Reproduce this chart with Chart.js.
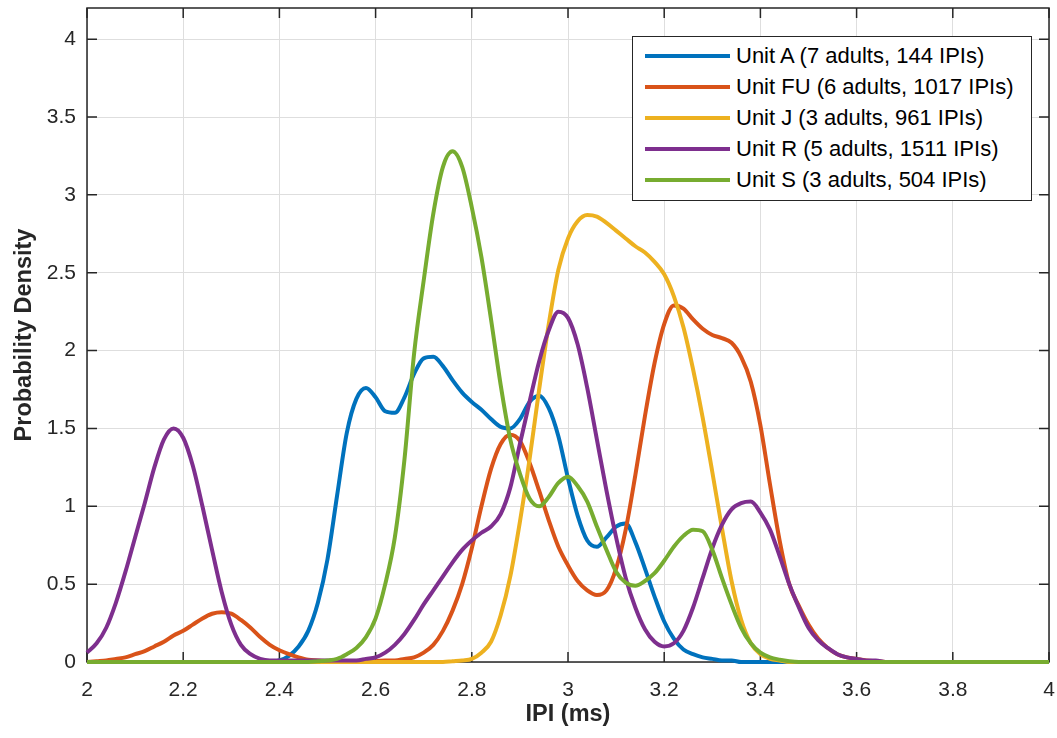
<!DOCTYPE html>
<html>
<head>
<meta charset="utf-8">
<script src="https://cdn.jsdelivr.net/npm/chart.js@4.4.0/dist/chart.umd.min.js"></script>
<style>
    body { margin: 0; background: #fff; }
    .wrap { position: relative; width: 1057px; height: 738px; }
    .legend {
        position: absolute; left: 632px; top: 36px; width: 400px; height: 165px;
        box-sizing: border-box; border: 1.5px solid #262626; background: #fff;
        padding-top: 3px;
        font-family: 'Liberation Sans', Arial, Helvetica, sans-serif; font-size: 22px; color: #000;
    }
    .legend .row { display: flex; align-items: center; height: 31px; }
    .legend .swatch { width: 85px; height: 4px; margin-left: 12px; margin-right: 6px; }
</style>
</head>
<body>
<div class="wrap">
    <canvas id="kdeChart" width="1057" height="738"></canvas>
    <div class="legend" id="legend"></div>
</div>
<script>
// IPI grid (ms), 0.02 steps
const ipi = [
    2.00, 2.02, 2.04, 2.06, 2.08, 2.10, 2.12, 2.14, 2.16, 2.18,
    2.20, 2.22, 2.24, 2.26, 2.28, 2.30, 2.32, 2.34, 2.36, 2.38,
    2.40, 2.42, 2.44, 2.46, 2.48, 2.50, 2.52, 2.54, 2.56, 2.58,
    2.60, 2.62, 2.64, 2.66, 2.68, 2.70, 2.72, 2.74, 2.76, 2.78,
    2.80, 2.82, 2.84, 2.86, 2.88, 2.90, 2.92, 2.94, 2.96, 2.98,
    3.00, 3.02, 3.04, 3.06, 3.08, 3.10, 3.12, 3.14, 3.16, 3.18,
    3.20, 3.22, 3.24, 3.26, 3.28, 3.30, 3.32, 3.34, 3.36, 3.38,
    3.40, 3.42, 3.44, 3.46, 3.48, 3.50, 3.52, 3.54, 3.56, 3.58,
    3.60, 3.62, 3.64, 3.66, 3.68, 3.70, 3.72, 3.74, 3.76, 3.78,
    3.80, 3.82, 3.84, 3.86, 3.88, 3.90, 3.92, 3.94, 3.96, 3.98,
    4.00
];

const unitA = [
    0, 0, 0, 0, 0, 0, 0, 0, 0, 0,
    0, 0, 0, 0, 0, 0, 0, 0, 0, 0,
    0.01, 0.04, 0.10, 0.20, 0.38, 0.66, 1.07, 1.47, 1.69, 1.76,
    1.70, 1.61, 1.60, 1.70, 1.85, 1.95, 1.96, 1.90, 1.81, 1.73,
    1.67, 1.62, 1.56, 1.51, 1.50, 1.56, 1.67, 1.71, 1.63, 1.45,
    1.18, 0.94, 0.78, 0.74, 0.80, 0.87, 0.89, 0.77, 0.60, 0.42,
    0.26, 0.15, 0.08, 0.05, 0.03, 0.02, 0.01, 0.01, 0, 0,
    0, 0, 0, 0, 0, 0, 0, 0, 0, 0,
    0, 0, 0, 0, 0, 0, 0, 0, 0, 0,
    0, 0, 0, 0, 0, 0, 0, 0, 0, 0,
    0
];

const unitFU = [
    0, 0.005, 0.01, 0.02, 0.03, 0.05, 0.07, 0.10, 0.13, 0.17,
    0.20, 0.24, 0.28, 0.31, 0.32, 0.31, 0.27, 0.22, 0.16, 0.11,
    0.075, 0.05, 0.03, 0.015, 0.01, 0.005, 0.005, 0.005, 0.005, 0.005,
    0.005, 0.01, 0.01, 0.02, 0.03, 0.06, 0.11, 0.20, 0.33, 0.50,
    0.73, 1.00, 1.24, 1.40, 1.46, 1.42, 1.28, 1.10, 0.91, 0.74,
    0.62, 0.52, 0.46, 0.43, 0.46, 0.60, 0.85, 1.20, 1.58, 1.92,
    2.17, 2.29, 2.27, 2.20, 2.14, 2.10, 2.08, 2.05, 1.96, 1.80,
    1.52, 1.14, 0.78, 0.50, 0.36, 0.24, 0.15, 0.09, 0.05, 0.03,
    0.02, 0.01, 0.005, 0, 0, 0, 0, 0, 0, 0,
    0, 0, 0, 0, 0, 0, 0, 0, 0, 0,
    0
];

const unitJ = [
    0, 0, 0, 0, 0, 0, 0, 0, 0, 0,
    0, 0, 0, 0, 0, 0, 0, 0, 0, 0,
    0, 0, 0, 0, 0, 0, 0, 0, 0, 0,
    0, 0, 0, 0, 0, 0, 0, 0, 0.005, 0.01,
    0.02, 0.06, 0.13, 0.30, 0.55, 0.90, 1.30, 1.75, 2.17, 2.52,
    2.72, 2.83, 2.87, 2.86, 2.82, 2.77, 2.72, 2.67, 2.63, 2.57,
    2.49, 2.35, 2.15, 1.88, 1.57, 1.22, 0.86, 0.52, 0.27, 0.12,
    0.05, 0.02, 0.01, 0, 0, 0, 0, 0, 0, 0,
    0, 0, 0, 0, 0, 0, 0, 0, 0, 0,
    0, 0, 0, 0, 0, 0, 0, 0, 0, 0,
    0
];

const unitR = [
    0.06, 0.12, 0.22, 0.38, 0.58, 0.80, 1.02, 1.25, 1.43, 1.50,
    1.44, 1.26, 1.00, 0.72, 0.45, 0.24, 0.11, 0.05, 0.02, 0.01,
    0.01, 0.01, 0.01, 0.01, 0.01, 0.01, 0.01, 0.01, 0.01, 0.02,
    0.03, 0.06, 0.11, 0.18, 0.27, 0.37, 0.46, 0.55, 0.64, 0.72,
    0.78, 0.83, 0.87, 0.95, 1.12, 1.40, 1.67, 1.93, 2.13, 2.25,
    2.21, 2.04, 1.76, 1.43, 1.10, 0.80, 0.54, 0.35, 0.21, 0.13,
    0.10, 0.12, 0.20, 0.35, 0.54, 0.73, 0.88, 0.98, 1.02, 1.03,
    0.96, 0.85, 0.68, 0.50, 0.35, 0.22, 0.14, 0.09, 0.05, 0.03,
    0.02, 0.01, 0.01, 0, 0, 0, 0, 0, 0, 0,
    0, 0, 0, 0, 0, 0, 0, 0, 0, 0,
    0
];

const unitS = [
    0, 0, 0, 0, 0, 0, 0, 0, 0, 0,
    0, 0, 0, 0, 0, 0, 0, 0, 0, 0,
    0, 0, 0, 0, 0.005, 0.01, 0.02, 0.05, 0.09, 0.16,
    0.28, 0.50, 0.80, 1.30, 1.98, 2.45, 2.88, 3.18, 3.28, 3.18,
    2.92, 2.60, 2.20, 1.78, 1.43, 1.21, 1.05, 1.00, 1.06, 1.15,
    1.19, 1.13, 1.03, 0.87, 0.72, 0.58, 0.51, 0.49, 0.52, 0.57,
    0.65, 0.74, 0.81, 0.85, 0.84, 0.72, 0.54, 0.37, 0.22, 0.12,
    0.06, 0.03, 0.015, 0.005, 0, 0, 0, 0, 0, 0,
    0, 0, 0, 0, 0, 0, 0, 0, 0, 0,
    0, 0, 0, 0, 0, 0, 0, 0, 0, 0,
    0
];

const unitLabels = [
    'Unit A (7 adults, 144 IPIs)',
    'Unit FU (6 adults, 1017 IPIs)',
    'Unit J (3 adults, 961 IPIs)',
    'Unit R (5 adults, 1511 IPIs)',
    'Unit S (3 adults, 504 IPIs)'
];
const unitColors = ['#0072BD', '#D95319', '#EDB120', '#7E2F8E', '#77AC30'];

const xTicks = [2, 2.2, 2.4, 2.6, 2.8, 3, 3.2, 3.4, 3.6, 3.8, 4];
const yTicks = [0, 0.5, 1, 1.5, 2, 2.5, 3, 3.5, 4];

const FONT = "'Liberation Sans', Arial, Helvetica, sans-serif";
const INK = '#262626';

// matlab-style box with inward ticks on all four sides
const axesBox = {
    id: 'axesBox',
    beforeDatasetsDraw(chart) {
        const { ctx, chartArea: a, scales: { x, y } } = chart;
        ctx.save();
        ctx.strokeStyle = INK;
        ctx.lineWidth = 1.5;
        ctx.strokeRect(a.left, a.top, a.right - a.left, a.bottom - a.top);
        ctx.beginPath();
        xTicks.forEach(v => {
            const px = x.getPixelForValue(v);
            ctx.moveTo(px, a.bottom); ctx.lineTo(px, a.bottom - 10);
            ctx.moveTo(px, a.top); ctx.lineTo(px, a.top + 10);
        });
        yTicks.forEach(v => {
            const py = y.getPixelForValue(v);
            ctx.moveTo(a.left, py); ctx.lineTo(a.left + 10, py);
            ctx.moveTo(a.right, py); ctx.lineTo(a.right - 10, py);
        });
        ctx.stroke();
        ctx.restore();
    }
};

const series = [unitA, unitFU, unitJ, unitR, unitS];
const datasets = series.map((vals, i) => ({
    label: unitLabels[i],
    data: ipi.map((x, k) => ({ x: x, y: vals[k] })),
    borderColor: unitColors[i],
    borderWidth: 4,
    pointRadius: 0,
    fill: false,
    cubicInterpolationMode: 'monotone',
    clip: false,
    order: series.length - i // last unit drawn on top, like matlab
}));

new Chart(document.getElementById('kdeChart'), {
    type: 'line',
    data: { datasets: datasets },
    options: {
        responsive: false,
        animation: false,
        layout: { padding: { top: 8, right: 8, left: 0, bottom: 0 } },
        plugins: {
            legend: { display: false }, // html legend below
            tooltip: { enabled: false }
        },
        scales: {
            x: {
                type: 'linear',
                min: 2,
                max: 4,
                afterBuildTicks: scale => { scale.ticks = xTicks.map(v => ({ value: v })); },
                afterFit: scale => {
                    scale.height = 76;
                    scale.paddingLeft = 0;
                    scale.paddingRight = 0;
                },
                ticks: {
                    callback: v => String(v),
                    color: INK,
                    padding: 16,
                    maxRotation: 0,
                    font: { family: FONT, size: 21 }
                },
                grid: { color: '#dedede', lineWidth: 1, drawTicks: false },
                border: { display: false },
                title: {
                    display: true,
                    text: 'IPI (ms)',
                    color: INK,
                    padding: { bottom: 9 },
                    font: { family: FONT, size: 23.5, weight: 'bold' }
                }
            },
            y: {
                min: 0,
                max: 4.2,
                afterBuildTicks: scale => { scale.ticks = yTicks.map(v => ({ value: v })); },
                afterFit: scale => {
                    scale.width = 87;
                    scale.paddingTop = 0;
                    scale.paddingBottom = 0;
                },
                ticks: {
                    callback: v => String(v),
                    color: INK,
                    padding: 11,
                    font: { family: FONT, size: 21 }
                },
                grid: { color: '#dedede', lineWidth: 1, drawTicks: false },
                border: { display: false },
                title: {
                    display: true,
                    text: 'Probability Density',
                    color: INK,
                    padding: { top: 10 },
                    font: { family: FONT, size: 23.5, weight: 'bold' }
                }
            }
        }
    },
    plugins: [axesBox]
});

// Legend box inside the axes, top right
const legendEl = document.getElementById('legend');
unitLabels.forEach((text, i) => {
    const row = document.createElement('div');
    row.className = 'row';
    const sw = document.createElement('span');
    sw.className = 'swatch';
    sw.style.background = unitColors[i];
    const lbl = document.createElement('span');
    lbl.textContent = text;
    row.appendChild(sw);
    row.appendChild(lbl);
    legendEl.appendChild(row);
});
</script>
</body>
</html>
